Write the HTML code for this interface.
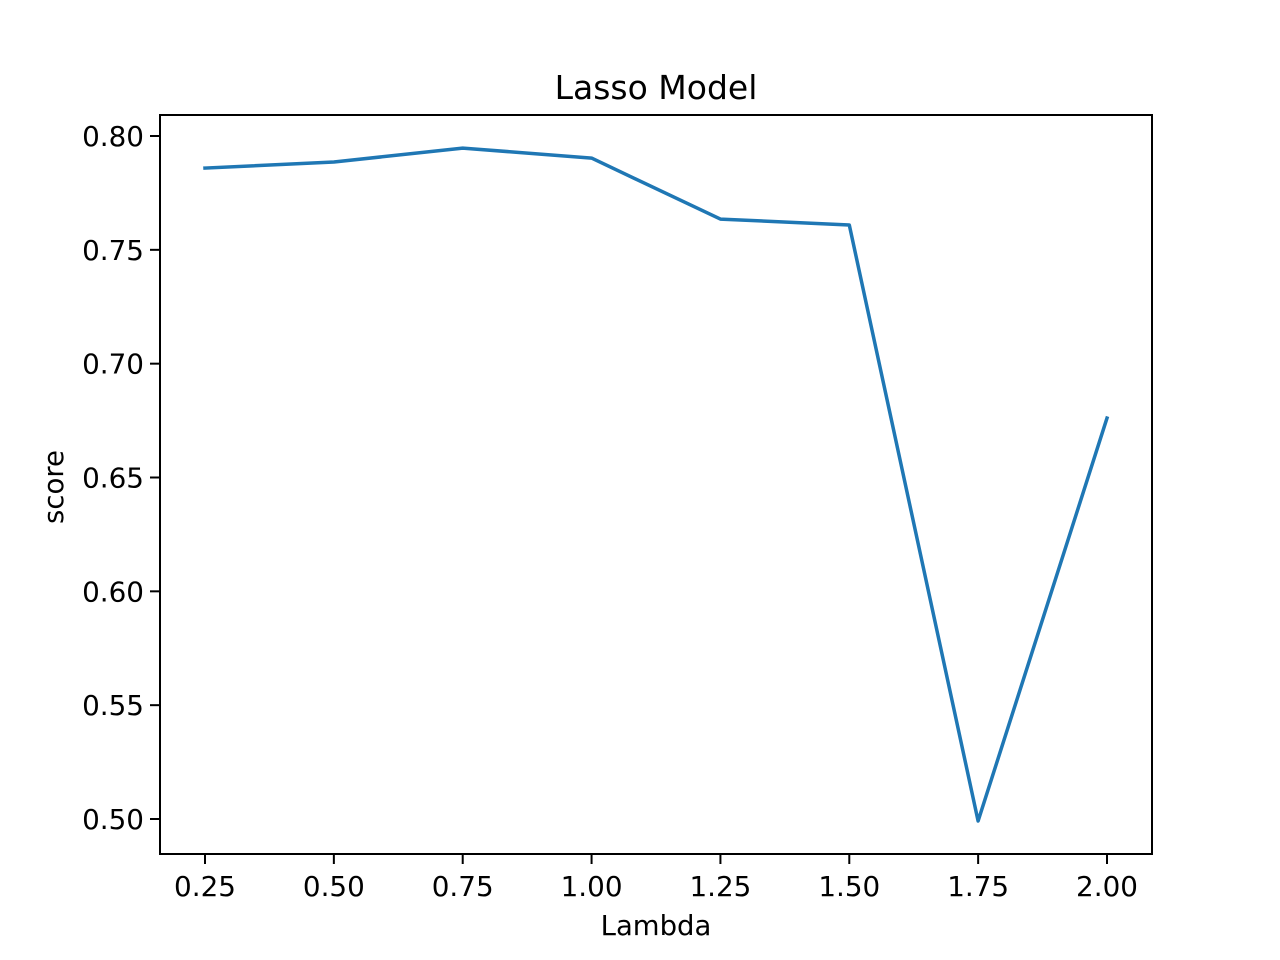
<!DOCTYPE html>
<html><head><meta charset="utf-8"><style>
html,body{margin:0;padding:0;background:#fff;}
svg{display:block;font-family:"DejaVu Sans","Liberation Sans",sans-serif;}
</style></head><body>
<svg id="chart" width="1280" height="960">
<rect x="0" y="0" width="1280" height="960" fill="#fff"/>
<text x="656" y="99" font-size="33" text-anchor="middle" fill="#000">Lasso Model</text>
<g id="xt"></g>
<g id="yt"></g>
<path id="line" fill="none" stroke="#1f77b4" stroke-width="3.5" stroke-linejoin="round" stroke-linecap="square"/>
<rect x="160" y="115" width="992" height="739" fill="none" stroke="#000" stroke-width="2"/>
<text x="656" y="935" font-size="27.5" text-anchor="middle">Lambda</text>
<text transform="translate(63,487) rotate(-90)" font-size="27.5" text-anchor="middle">score</text>
</svg>
<script>
const lambdas = [0.25, 0.5, 0.75, 1.0, 1.25, 1.5, 1.75, 2.0];
const scores = [0.7859, 0.7886, 0.7947, 0.7903, 0.7635, 0.7609, 0.4991, 0.6761];
const xTicks = [0.25, 0.5, 0.75, 1.0, 1.25, 1.5, 1.75, 2.0];
const xTickLabels = ["0.25","0.50","0.75","1.00","1.25","1.50","1.75","2.00"];
const yTicks = [0.5, 0.55, 0.6, 0.65, 0.7, 0.75, 0.8];
const yTickLabels = ["0.50","0.55","0.60","0.65","0.70","0.75","0.80"];

const NS = "http://www.w3.org/2000/svg";
function xs(v){ return 205 + (v - 0.25) / 1.75 * (1107 - 205); }
function ys(v){ return 819 - (v - 0.5) / 0.3 * (819 - 136); }

const xg = document.getElementById('xt');
xTicks.forEach((t, i) => {
  const l = document.createElementNS(NS, 'line');
  l.setAttribute('x1', xs(t)); l.setAttribute('x2', xs(t));
  l.setAttribute('y1', 854); l.setAttribute('y2', 864);
  l.setAttribute('stroke', '#000'); l.setAttribute('stroke-width', '2');
  
  
  xg.appendChild(l);
  const tx = document.createElementNS(NS, 'text');
  tx.setAttribute('x', xs(t)); tx.setAttribute('y', 896);
  tx.setAttribute('font-size', '27.8'); tx.setAttribute('text-anchor', 'middle');
  tx.textContent = xTickLabels[i];
  
  
  xg.appendChild(tx);
});
const yg = document.getElementById('yt');
yTicks.forEach((t, i) => {
  const l = document.createElementNS(NS, 'line');
  l.setAttribute('x1', 150); l.setAttribute('x2', 160);
  l.setAttribute('y1', ys(t)); l.setAttribute('y2', ys(t));
  l.setAttribute('stroke', '#000'); l.setAttribute('stroke-width', '2');
  
  
  yg.appendChild(l);
  const tx = document.createElementNS(NS, 'text');
  tx.setAttribute('x', 144); tx.setAttribute('y', ys(t) + 10);
  tx.setAttribute('font-size', '27.8'); tx.setAttribute('text-anchor', 'end');
  tx.textContent = yTickLabels[i];
  
  
  yg.appendChild(tx);
});
document.getElementById('line').setAttribute('d',
  lambdas.map((v, i) => (i ? 'L' : 'M') + xs(v).toFixed(1) + ',' + ys(scores[i]).toFixed(1)).join(' '));
</script>
</body></html>
